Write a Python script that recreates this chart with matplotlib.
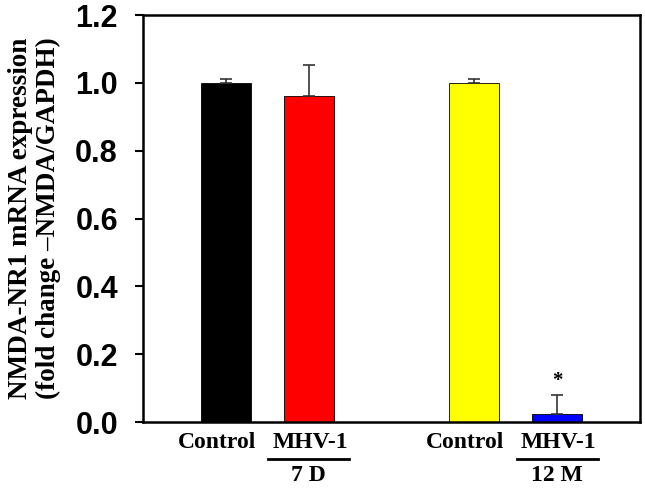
import matplotlib.pyplot as plt
import matplotlib.transforms as mtransforms

groups = ['Control', 'MHV-1', 'Control', 'MHV-1']
subgroups = ['', '7 D', '', '12 M']
values = [1.0, 0.96, 1.0, 0.025]
errors = [0.01, 0.093, 0.01, 0.056]
colors = ['#000000', '#ff0000', '#ffff00', '#0000ff']
positions = [0, 1, 3, 4]
yticks = [0.0, 0.2, 0.4, 0.6, 0.8, 1.0, 1.2]

fig = plt.figure(figsize=(6.45, 4.88), dpi=100)
ax = fig.add_axes([143/645, 1-422/488, 497/645, 407/488])

ax.bar(positions, values, width=0.6, color=colors, edgecolor='black', linewidth=0.6)
ax.errorbar(positions, values, yerr=[[0]*4, errors], fmt='none', ecolor='#333333',
            elinewidth=1.2, capsize=4, capthick=1.2)

# significance marker
ax.text(positions[3], values[3]+errors[3]+0.01, '*', ha='center', va='bottom',
        fontsize=15, fontweight='bold', family='Liberation Serif')

ax.set_xlim(-1, 5)
ax.set_ylim(0, 1.2)
ax.set_yticks(yticks)
ax.set_yticklabels(['%.1f' % t for t in yticks], fontsize=22, fontweight='bold',
                   family='Liberation Sans')
ax.set_xticks([])
ax.tick_params(axis='y', direction='out', length=6, width=1.5, pad=12)
for s in ax.spines.values():
    s.set_linewidth(1.8)

ax.set_ylabel('NMDA-NR1 mRNA expression\n(fold change \u2013NMDA/GAPDH)', fontsize=19.5,
              fontweight='bold', family='Liberation Serif', labelpad=10, linespacing=1.15)

# category labels below axis
trans = mtransforms.blended_transform_factory(ax.transData, ax.transAxes)
for x, g, sg in zip(positions, groups, subgroups):
    dx = 0.02 if sg else -0.11
    ax.text(x + dx, -0.05, g, transform=trans, ha='center', va='center', fontsize=17,
            fontweight='bold', family='Liberation Serif')
    if sg:
        ax.plot([x-0.49, x+0.49], [-0.092, -0.092], transform=trans, color='black',
                lw=2, clip_on=False)
        ax.text(x, -0.132, sg, transform=trans, ha='center', va='center', fontsize=17,
                fontweight='bold', family='Liberation Serif')

fig.savefig('out.png', dpi=100)
